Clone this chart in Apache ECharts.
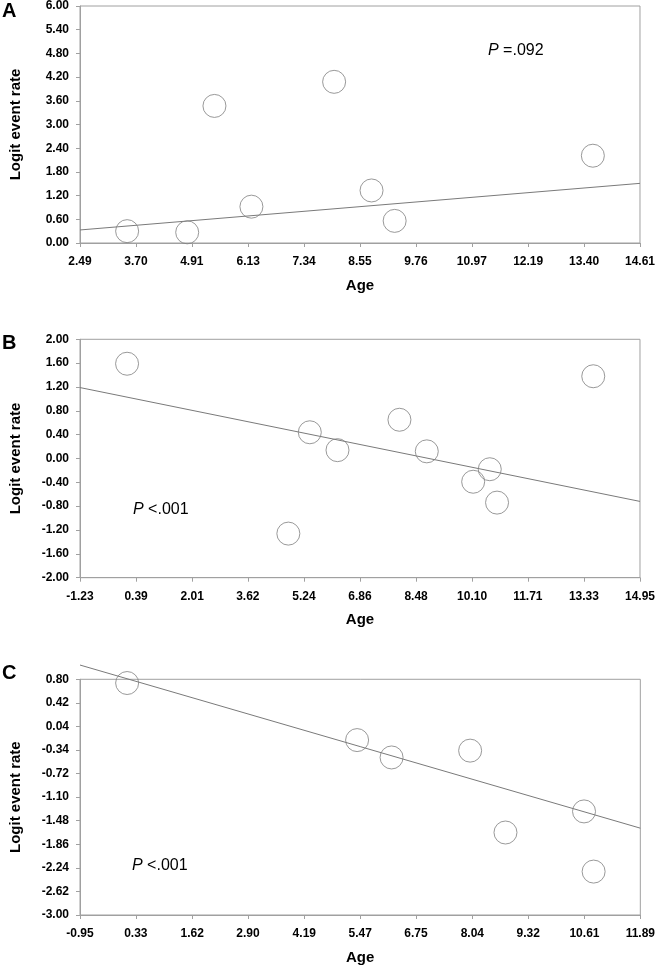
<!DOCTYPE html>
<html>
<head>
<meta charset="utf-8">
<script src="https://cdn.jsdelivr.net/npm/echarts@6/dist/echarts.min.js"></script>
<style>
html,body{margin:0;padding:0;background:#fff;}
#chart{width:658px;height:966px;}
</style>
</head>
<body>
<div id="chart"></div>
<script>
// Panel A
const xTicksA = [2.49, 3.70, 4.91, 6.13, 7.34, 8.55, 9.76, 10.97, 12.19, 13.40, 14.61];
const yTicksA = [0.00, 0.60, 1.20, 1.80, 2.40, 3.00, 3.60, 4.20, 4.80, 5.40, 6.00];
const ageA = [3.51, 4.81, 5.40, 6.20, 7.99, 8.80, 9.30, 13.59];
const logitA = [0.30, 0.27, 3.47, 0.92, 4.08, 1.33, 0.56, 2.21];
const fitA = [[2.49, 0.33], [14.61, 1.51]];
const pTextA = '.092';
const pOpA = '=';

// Panel B
const xTicksB = [-1.23, 0.39, 2.01, 3.62, 5.24, 6.86, 8.48, 10.10, 11.71, 13.33, 14.95];
const yTicksB = [-2.00, -1.60, -1.20, -0.80, -0.40, 0.00, 0.40, 0.80, 1.20, 1.60, 2.00];
const ageB = [0.13, 5.41, 6.21, 4.79, 8.00, 8.79, 10.61, 10.13, 10.82, 13.60];
const logitB = [1.59, 0.44, 0.14, -1.26, 0.65, 0.12, -0.18, -0.39, -0.74, 1.38];
const fitB = [[-1.23, 1.19], [14.95, -0.72]];
const pTextB = '.001';
const pOpB = '<';

// Panel C
const xTicksC = [-0.95, 0.33, 1.62, 2.90, 4.19, 5.47, 6.75, 8.04, 9.32, 10.61, 11.89];
const yTicksC = [-3.00, -2.62, -2.24, -1.86, -1.48, -1.10, -0.72, -0.34, 0.04, 0.42, 0.80];
const ageC = [0.13, 5.40, 6.19, 7.99, 8.80, 10.60, 10.82];
const logitC = [0.74, -0.18, -0.46, -0.35, -1.67, -1.33, -2.30];
const fitC = [[-0.95, 1.03], [11.89, -1.60]];
const pTextC = '.001';
const pOpC = '<';

const panelLetters = ['A', 'B', 'C'];
const xName = 'Age';
const yName = 'Logit event rate';

const FONT = '"Liberation Sans", Arial, sans-serif';
const AXC = '#a0a0a0';

const panels = [
  {xt: xTicksA, yt: yTicksA, x: ageA, y: logitA, fit: fitA, p: pTextA, op: pOpA, top: 5, bottom: 243, pl: 488, py: 52, ly: 11},
  {xt: xTicksB, yt: yTicksB, x: ageB, y: logitB, fit: fitB, p: pTextB, op: pOpB, top: 339.3, bottom: 577.7, pl: 133, py: 511, ly: 343},
  {xt: xTicksC, yt: yTicksC, x: ageC, y: logitC, fit: fitC, p: pTextC, op: pOpC, top: 679.3, bottom: 916.3, pl: 132, py: 867, ly: 673}
];

const grids = [], xAxes = [], yAxes = [], series = [], graphics = [];
panels.forEach((pn, i) => {
  grids.push({left: 77, right: 16, top: pn.top, height: pn.bottom - pn.top, show: true, borderColor: AXC, borderWidth: 1, containLabel: false});
  const axisCommon = {
    axisLine: {show: true, onZero: false, lineStyle: {color: AXC, width: 1}},
    axisTick: {show: true, length: 4, lineStyle: {color: AXC}},
    splitLine: {show: false},
    axisLabel: {fontFamily: FONT, fontWeight: 'bold', fontSize: 12, color: '#000', formatter: v => Number(v).toFixed(2)},
    nameTextStyle: {fontFamily: FONT, fontWeight: 'bold', fontSize: 15, color: '#000'}
  };
  xAxes.push(Object.assign({}, axisCommon, {
    type: 'value', gridIndex: i, min: pn.xt[0], max: pn.xt[pn.xt.length - 1],
    name: xName, nameLocation: 'middle', nameGap: 35,
    axisTick: Object.assign({}, axisCommon.axisTick, {customValues: pn.xt}),
    axisLabel: Object.assign({}, axisCommon.axisLabel, {customValues: pn.xt, margin: 13, showMinLabel: true, showMaxLabel: true})
  }));
  yAxes.push(Object.assign({}, axisCommon, {
    type: 'value', gridIndex: i, min: pn.yt[0], max: pn.yt[pn.yt.length - 1],
    name: yName, nameLocation: 'middle', nameRotate: 90, nameGap: 57,
    axisTick: Object.assign({}, axisCommon.axisTick, {customValues: pn.yt}),
    axisLabel: Object.assign({}, axisCommon.axisLabel, {customValues: pn.yt, margin: 11, showMinLabel: true, showMaxLabel: true})
  }));
  series.push({
    type: 'line', xAxisIndex: i, yAxisIndex: i, data: pn.fit, symbol: 'none', clip: false,
    lineStyle: {color: '#7a7a7a', width: 1}, silent: true, z: 2
  });
  series.push({
    type: 'scatter', xAxisIndex: i, yAxisIndex: i,
    data: pn.x.map((v, k) => [v, pn.y[k]]),
    symbol: 'circle', symbolSize: 23,
    itemStyle: {color: 'rgba(255,255,255,0)', borderColor: '#808080', borderWidth: 1},
    z: 3
  });
  graphics.push({
    type: 'text', left: pn.pl, top: pn.py - 9,
    style: {
      text: '{i|P} ' + pn.op + pn.p,
      fill: '#000', font: '16px ' + FONT,
      rich: {i: {fontStyle: 'italic', fontSize: 16, fontFamily: FONT, fill: '#000'}}
    }
  });
  graphics.push({
    type: 'text', left: 2, top: pn.ly - 10,
    style: {text: panelLetters[i], fill: '#000', font: 'bold 20px ' + FONT}
  });
});

const chart = echarts.init(document.getElementById('chart'), null, {renderer: 'canvas'});
chart.setOption({
  animation: false,
  backgroundColor: '#fff',
  grid: grids, xAxis: xAxes, yAxis: yAxes, series: series, graphic: graphics
});
</script>
</body>
</html>
